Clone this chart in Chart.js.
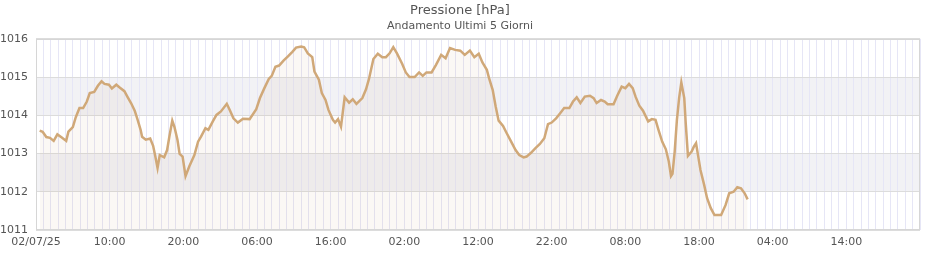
<!DOCTYPE html>
<html>
<head>
<meta charset="utf-8">
<script src="https://cdn.jsdelivr.net/npm/chart.js@4.4.1/dist/chart.umd.min.js"></script>
<style>
    html, body { margin: 0; padding: 0; background: #fff; }
    #wrap { width: 940px; height: 260px; }
</style>
</head>
<body>
<div id="wrap"><canvas id="pressure-chart"></canvas></div>
<script>
// hours since 02/07/25 00:00
var hours = [
    0.5, 0.9, 1.4, 1.9, 2.4, 2.9, 3.5, 4.1, 4.4, 5.0, 5.4, 5.9, 6.4, 6.9, 7.3, 7.9, 8.4, 8.9, 9.3, 9.9,
    10.3, 10.9, 11.4, 12.0, 12.4, 12.9, 13.4, 13.8, 14.2, 14.4, 14.9, 15.5, 15.9, 16.2, 16.5, 16.8, 17.4, 17.8, 18.1, 18.5,
    18.8, 19.2, 19.5, 19.9, 20.3, 20.8, 21.5, 22.0, 22.4, 23.0, 23.4, 24.0, 24.5, 25.1, 25.9, 26.3, 26.8, 27.4, 28.1, 29.0,
    29.9, 30.4, 31.0, 31.6, 32.0, 32.5, 33.0, 33.6, 34.2, 34.8, 35.3, 36.0, 36.4, 36.9, 37.5, 37.8, 38.4, 38.8, 39.3, 39.7,
    40.3, 40.6, 41.0, 41.4, 41.9, 42.5, 43.0, 43.5, 44.3, 44.8, 45.2, 45.8, 46.4, 47.0, 47.5, 48.0, 48.5, 49.0, 49.7, 50.2,
    50.7, 51.4, 52.0, 52.5, 53.0, 53.7, 54.3, 55.0, 55.6, 56.2, 56.9, 57.6, 58.2, 58.9, 59.5, 60.1, 60.6, 61.2, 61.5, 62.0,
    62.4, 62.8, 63.4, 63.9, 64.5, 65.1, 65.6, 66.2, 66.6, 67.2, 67.8, 68.4, 69.0, 69.5, 70.0, 70.6, 71.1, 71.7, 72.4, 72.9,
    73.4, 73.9, 74.5, 75.2, 75.7, 76.1, 76.7, 77.2, 77.6, 78.4, 78.9, 79.5, 80.0, 80.5, 81.0, 81.4, 81.9, 82.4, 83.1, 83.6,
    84.1, 84.5, 85.0, 85.5, 85.9, 86.2, 86.4, 86.7, 87.0, 87.3, 87.6, 88.0, 88.2, 88.5, 89.0, 89.3, 89.6, 89.9, 90.2, 90.7,
    91.1, 91.6, 92.1, 93.0, 93.6, 94.1, 94.7, 95.2, 95.7, 96.2, 96.6
];
var pressure = [
    1013.60, 1013.57, 1013.43, 1013.41, 1013.33, 1013.50, 1013.42, 1013.33, 1013.57, 1013.69, 1013.95, 1014.19, 1014.19, 1014.36, 1014.58, 1014.61, 1014.77, 1014.89, 1014.82, 1014.80,
    1014.70, 1014.80, 1014.72, 1014.63, 1014.49, 1014.32, 1014.12, 1013.88, 1013.62, 1013.44, 1013.36, 1013.39, 1013.20, 1012.92, 1012.62, 1012.96, 1012.90, 1013.09, 1013.44, 1013.86,
    1013.69, 1013.36, 1012.99, 1012.92, 1012.41, 1012.66, 1012.96, 1013.31, 1013.44, 1013.66, 1013.62, 1013.84, 1014.01, 1014.10, 1014.30, 1014.14, 1013.92, 1013.81, 1013.91, 1013.90,
    1014.16, 1014.45, 1014.71, 1014.95, 1015.03, 1015.27, 1015.30, 1015.43, 1015.54, 1015.66, 1015.77, 1015.80, 1015.78, 1015.62, 1015.52, 1015.14, 1014.93, 1014.58, 1014.40, 1014.14,
    1013.88, 1013.81, 1013.90, 1013.70, 1014.47, 1014.33, 1014.42, 1014.30, 1014.45, 1014.68, 1014.95, 1015.47, 1015.61, 1015.52, 1015.52, 1015.62, 1015.78, 1015.62, 1015.35, 1015.12,
    1015.00, 1015.00, 1015.12, 1015.03, 1015.12, 1015.12, 1015.32, 1015.58, 1015.49, 1015.76, 1015.71, 1015.69, 1015.58, 1015.69, 1015.52, 1015.61, 1015.38, 1015.19, 1014.97, 1014.66,
    1014.23, 1013.86, 1013.72, 1013.53, 1013.31, 1013.09, 1012.96, 1012.90, 1012.92, 1013.02, 1013.14, 1013.25, 1013.40, 1013.77, 1013.81, 1013.92, 1014.04, 1014.19, 1014.19, 1014.36,
    1014.47, 1014.32, 1014.49, 1014.51, 1014.45, 1014.32, 1014.40, 1014.36, 1014.29, 1014.29, 1014.51, 1014.75, 1014.71, 1014.82, 1014.71, 1014.48, 1014.25, 1014.12, 1013.84, 1013.90,
    1013.88, 1013.62, 1013.31, 1013.11, 1012.79, 1012.41, 1012.47, 1013.05, 1013.88, 1014.45, 1014.86, 1014.45, 1013.79, 1012.94, 1013.05, 1013.18, 1013.27, 1012.92, 1012.57, 1012.18,
    1011.83, 1011.57, 1011.39, 1011.39, 1011.65, 1011.96, 1012.00, 1012.12, 1012.09, 1011.96, 1011.80
];
// one label every 10 hours
var tickLabels = ['02/07/25', '10:00', '20:00', '06:00', '16:00', '02:00', '12:00', '22:00', '08:00', '18:00', '04:00', '14:00'];

var lineColor = 'rgb(208, 168, 120)';
var fontFamily = "'DejaVu Sans', sans-serif";

// grey stripes behind every other hPa band, plus a frame round the plot
var bandsPlugin = {
    id: 'bands',
    beforeDraw: function (chart) {
        var ctx = chart.ctx;
        var area = chart.chartArea;
        var y = chart.scales.y;
        ctx.save();
        ctx.fillStyle = '#f2f2f5';
        for (var v = y.min; v < y.max; v++) {
            if (v % 2 === 0) {
                var top = y.getPixelForValue(v + 1);
                var bottom = y.getPixelForValue(v);
                ctx.fillRect(area.left, top, area.right - area.left, bottom - top);
            }
        }
        ctx.restore();
    },
    afterDraw: function (chart) {
        var ctx = chart.ctx;
        var area = chart.chartArea;
        ctx.save();
        ctx.strokeStyle = '#d6d6d6';
        ctx.lineWidth = 1;
        ctx.strokeRect(Math.round(area.left) + 0.5, Math.round(area.top) + 0.5,
            Math.round(area.right - area.left) - 1, Math.round(area.bottom - area.top) - 1);
        ctx.restore();
    }
};

var points = hours.map(function (h, i) {
    return { x: h, y: pressure[i] };
});

var ctx = document.getElementById('pressure-chart').getContext('2d');
var myChart = new Chart(ctx, {
    type: 'line',
    data: {
        datasets: [{
            label: 'Pressione',
            data: points,
            borderColor: lineColor,
            borderWidth: 2.5,
            backgroundColor: 'rgba(205, 160, 110, 0.07)',
            fill: 'start',
            pointRadius: 0,
            tension: 0
        }]
    },
    options: {
        responsive: true,
        maintainAspectRatio: false,
        animation: false,
        layout: {
            padding: { left: 0, right: 20, top: 0, bottom: 0 }
        },
        plugins: {
            legend: { display: false },
            tooltip: { enabled: false },
            title: {
                display: true,
                text: 'Pressione [hPa]',
                color: '#555',
                font: { family: fontFamily, size: 13, weight: 'normal' },
                padding: { top: 3, bottom: 1 }
            },
            subtitle: {
                display: true,
                text: 'Andamento Ultimi 5 Giorni',
                color: '#555',
                font: { family: fontFamily, size: 11, weight: 'normal' },
                padding: { top: 0, bottom: 6 }
            }
        },
        scales: {
            x: {
                type: 'linear',
                min: 0,
                max: 120,
                grid: { color: '#e6e6f6', drawTicks: false },
                border: { display: false },
                afterFit: function (scale) { scale.height = 30; },
                ticks: {
                    stepSize: 1,
                    autoSkip: false,
                    maxRotation: 0,
                    padding: 6,
                    color: '#555',
                    font: { family: fontFamily, size: 11 },
                    callback: function (value) {
                        if (value % 10 === 0 && value / 10 < tickLabels.length) {
                            return tickLabels[value / 10];
                        }
                        return '';
                    }
                }
            },
            y: {
                min: 1011,
                max: 1016,
                grid: { color: '#dcdcdc', drawTicks: false },
                border: { display: false },
                afterFit: function (scale) { scale.width = 36; },
                ticks: {
                    stepSize: 1,
                    padding: 8,
                    color: '#555',
                    font: { family: fontFamily, size: 11 },
                    callback: function (value) {
                        return String(value);
                    }
                }
            }
        }
    },
    plugins: [bandsPlugin]
});
</script>
</body>
</html>
